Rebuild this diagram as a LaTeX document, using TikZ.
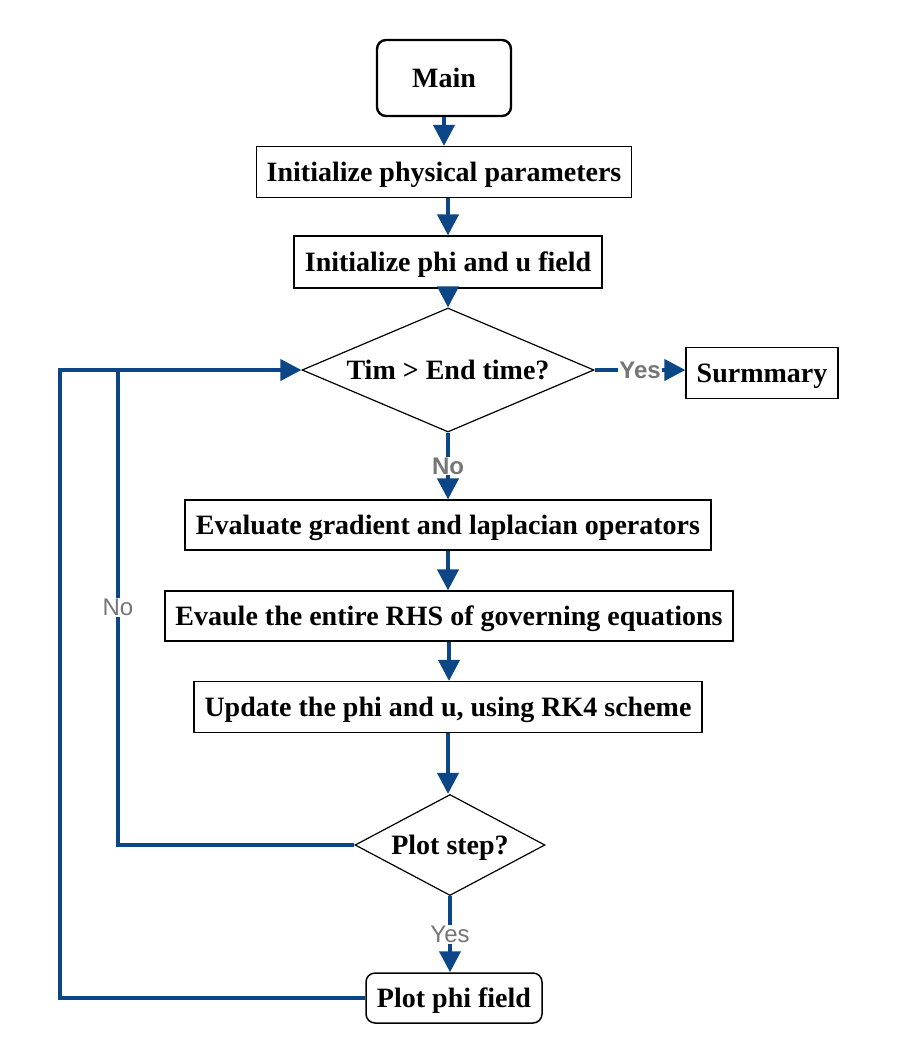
\documentclass[tikz,border=0pt]{standalone}
\usepackage{fontspec}
\setmainfont{Liberation Serif}
\newfontfamily\lblfont{Liberation Sans}
\usetikzlibrary{shapes.geometric,arrows.meta}
\definecolor{flowblue}{RGB}{12,70,135}
\definecolor{lblgray}{RGB}{118,118,118}
\begin{document}
\begin{tikzpicture}[x=1pt,y=1pt,
  box/.style={draw=black,line width=1.2pt,fill=white,inner sep=0pt,
    text height=19pt,text depth=0pt,
    font=\fontsize{28}{32}\selectfont\bfseries},
  rbox/.style={box,rounded corners=9pt},
  dia/.style={box,shape=diamond},
  flowline/.style={draw=flowblue,line width=4pt},
  flow/.style={flowline,-{Triangle[length=21pt,width=21pt]}},
  lblb/.style={fill=white,inner sep=1pt,text=lblgray,font=\lblfont\bfseries\fontsize{24}{27}\selectfont},
  lblr/.style={fill=white,inner sep=1pt,text=lblgray,font=\lblfont\fontsize{24}{27}\selectfont},
]
\useasboundingbox (0,0) rectangle (904,-1060);
\fill[white] (0,0) rectangle (904,-1060);

\node[rbox,line width=2.4pt,minimum width=134,minimum height=76] (main) at (444,-78) {Main};
\node[box,minimum width=375,minimum height=51] (ipp) at (444,-172) {Initialize physical parameters};
\node[box,minimum width=308,minimum height=52] (ipu) at (448,-262) {Initialize phi and u field};
\node[dia,minimum width=292,minimum height=124] (d1) at (448,-370) {\makebox[0pt]{Tim > End time?}};
\node[box,minimum width=152,minimum height=51] (sum) at (762,-373) {Surmmary};
\node[box,minimum width=526,minimum height=50] (eg) at (448,-525) {Evaluate gradient and laplacian operators};
\node[box,minimum width=568,minimum height=50] (er) at (449,-616) {Evaule the entire RHS of governing equations};
\node[box,minimum width=508,minimum height=51] (up) at (448,-707) {Update the phi and u, using RK4 scheme};
\node[dia,minimum width=190,minimum height=101] (d2) at (450,-845) {\makebox[0pt]{Plot step?}};
\node[rbox,line width=1.5pt,minimum width=176,minimum height=50] (pp) at (454,-998) {Plot phi field};

\coordinate (innerTop) at (118,-370);
\coordinate (outerTop) at (60,-370);

\draw[flow] (main.south) -- (main.south |- ipp.north);
\draw[flow] (ipp.south -| ipu.north) -- (ipu.north);
\draw[flow] (ipu.south) -- (ipu.south |- d1.north);
\draw[flow] (d1.east) -- node[lblb]{Yes} (d1.east -| sum.west);
\draw[flow] (d1.south) -- node[lblb]{No} (d1.south |- eg.north);
\draw[flow] (eg.south) -- (eg.south |- er.north);
\draw[flow] (er.south) -- (er.south |- up.north);
\draw[flow] (up.south) -- (up.south |- d2.north);
\draw[flow] (d2.south) -- node[lblr]{Yes} (d2.south |- pp.north);
\draw[flow] (pp.west) -| (outerTop) -- (d1.west);
\draw[flowline] (d2.west) -| node[lblr,pos=0.75]{No} (innerTop);
\end{tikzpicture}
\end{document}
